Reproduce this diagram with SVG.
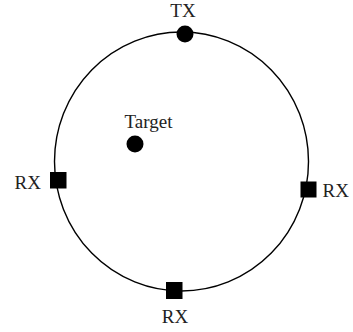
<svg xmlns="http://www.w3.org/2000/svg" width="353" height="332" viewBox="0 0 353 332">
<style>
text{font-family:"Liberation Serif","DejaVu Serif",serif;font-size:19px;fill:#222}
.dot{fill:#000}
.sq{fill:#000}
</style>
<rect width="353" height="332" fill="#fff"/>
<g id="connectors">
<ellipse cx="181.5" cy="161.5" rx="127" ry="129.5" fill="none" stroke="#000" stroke-width="1.4"/>
</g>
<g id="tx"><circle class="dot" cx="185" cy="34" r="8.5"/><text x="183" y="16.5" text-anchor="middle">TX</text></g>
<g id="target"><circle class="dot" cx="135" cy="144" r="8.5"/><text x="124.5" y="128" text-anchor="start">Target</text></g>
<g id="rx-left"><rect class="sq" x="50" y="172" width="16.5" height="16.5"/><text x="41" y="189" text-anchor="end">RX</text></g>
<g id="rx-right"><rect class="sq" x="300.5" y="181.5" width="16" height="16"/><text x="322.5" y="197" text-anchor="start">RX</text></g>
<g id="rx-bottom"><rect class="sq" x="166" y="282" width="16.5" height="17"/><text x="175" y="323" text-anchor="middle">RX</text></g>
</svg>
